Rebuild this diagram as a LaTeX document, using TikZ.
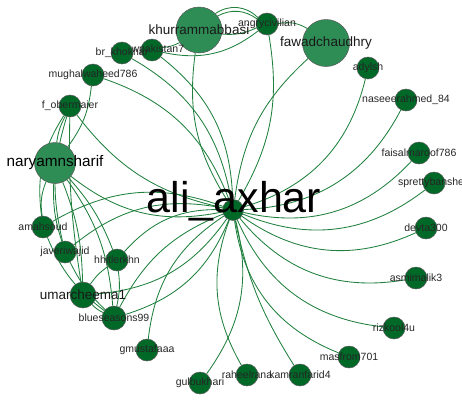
\documentclass[tikz,border=0pt]{standalone}
\usepackage{fontspec}
\setmainfont{Liberation Sans}
\usepackage{tikz}
\usetikzlibrary{backgrounds}
\definecolor{userfill}{RGB}{0,105,40}
\definecolor{hubfill}{RGB}{46,140,85}
\definecolor{linkgreen}{RGB}{32,128,62}
\tikzset{
    %Define style for ordinary users
    user/.style={
           circle,
           draw=black!65,
           fill=userfill,
           line width=0.5pt,
           minimum size=22pt,
           inner sep=0pt},
    %Define style for the big accounts
    hub/.style={
           user,
           fill=hubfill},
    %Define style for labels
    lab/.style={
           font=\fontsize{10.5}{12}\selectfont,
           text=black!85},
    biglab/.style={
           font=\fontsize{13.5}{15}\selectfont,
           text=black!90},
    % Define edge style
    link/.style={
           draw=linkgreen,
           line width=0.85pt}
}

\begin{document}
\begin{tikzpicture}[x=1pt, y=-1pt]
    \useasboundingbox (0,0) rectangle (462,399);
    \node [user, minimum size=21pt] (ali) at (233,210) {};
    \node [hub, minimum size=46pt, label={[biglab]center:khurrammabbasi}] (khurram) at (199,30) {};
    \node [hub, minimum size=47pt, label={[biglab]center:fawadchaudhry}] (fawad) at (326,43) {};
    \node [user, label={[lab]center:angrycivilian}] (angry) at (267,24) {};
    \node [user, label={[lab]center:newpakistan7}] (newpak) at (152,50) {};
    \node [user, label={[lab]center:br\_khokhar}] (brkh) at (122,53) {};
    \node [user, label={[lab]center:mughalwaheed786}] (mughal) at (93,75) {};
    \node [user, label={[lab]center:f\_obermaier}] (fober) at (70,106) {};
    \node [hub, minimum size=41pt, label={[font=\fontsize{15.3}{17}\selectfont]center:naryamnsharif}] (naryam) at (55,163) {};
    \node [user, label={[lab]center:amahsoud}] (amahsoud) at (43,227) {};
    \node [user, label={[lab]center:javeriwajid}] (javeri) at (65,252) {};
    \node [user, label={[lab]center:hhitlerkhn}] (hhitler) at (117,260) {};
    \node [user, minimum size=26pt, label={[biglab]center:umarcheema1}] (umar) at (83,295) {};
    \node [user, minimum size=24pt, label={[lab]center:blueseasons99}] (blue) at (114,318) {};
    \node [user, label={[lab]center:gmustafaaa}] (gmust) at (147,350) {};
    \node [user, label={[lab]center:gulbukhari}] (gul) at (200,383) {};
    \node [user, label={[lab]center:raheelrana}] (raheel) at (247,375) {};
    \node [user, label={[lab]center:kamranfarid4}] (kamran) at (300,375) {};
    \node [user, label={[lab]center:masfrom701}] (masfrom) at (349,357) {};
    \node [user, label={[lab]center:rizkool4u}] (rizkool) at (394,328) {};
    \node [user, label={[lab]center:asmimalik3}] (asmi) at (416,278) {};
    \node [user, label={[lab]center:devta300}] (devta) at (426,228) {};
    \node [user, label={[lab]center:sprettybanshee}] (spretty) at (434,183) {};
    \node [user, label={[lab]center:faisalmaroof786}] (faisal) at (419,153) {};
    \node [user, label={[lab]center:naseeerahmed\_84}] (naseeer) at (406,100) {};
    \node [user, label={[lab]center:adylsh}] (adylsh) at (368,68) {};
    \node [font=\fontsize{43}{45}\selectfont, text=black] (alilab) at (234,201) {ali\_axhar};

    \begin{pgfonlayer}{background}
	% edges of the centre account
	\path (ali) edge[link, bend left=20] (khurram);
	\path (ali) edge[link, bend right=20] (angry);
	\path (ali) edge[link, bend left=20] (fawad);
	\path (ali) edge[link, bend right=30] (adylsh);
	\path (ali) edge[link, bend right=30] (naseeer);
	\path (ali) edge[link, bend right=30] (faisal);
	\path (ali) edge[link, bend right=30] (spretty);
	\path (ali) edge[link, bend right=30] (devta);
	\path (ali) edge[link, bend right=30] (asmi);
	\path (ali) edge[link, bend right=30] (rizkool);
	\path (ali) edge[link, bend right=30] (masfrom);
	\path (ali) edge[link, bend right=10] (kamran);
	\path (ali) edge[link, bend right=25] (raheel);
	\path (ali) edge[link, bend left=25] (gul);
	\path (ali) edge[link, bend right=25] (gmust);
	\path (ali) edge[link, bend left=25] (blue);
	\path (ali) edge[link, bend right=20] (blue);
	\path (ali) edge[link, bend left=25] (umar);
	\path (ali) edge[link, bend right=25] (hhitler);
	\path (ali) edge[link, bend right=25] (javeri);
	\path (ali) edge[link, bend right=25] (amahsoud);
	\path (ali) edge[link, bend left=25] (naryam);
	\path (ali) edge[link, bend left=20] (fober);
	\path (ali) edge[link, bend right=25] (mughal);
	\path (ali) edge[link, bend right=25] (brkh);
	\path (ali) edge[link, bend right=25] (newpak);
	% top group
	\path (khurram) edge[link, bend left=40] (angry);
	\path (khurram) edge[link, bend left=32] (angry);
	\path (khurram) edge[link, bend right=15] (angry);
	\path (newpak) edge[link, bend right=25] (angry);
	\path (newpak) edge[link, bend right=10] (khurram);
	\path (angry) edge[link, bend left=20] (fawad);
	% left group
	\path (fober) edge[link, bend right=10] (naryam);
	\path (mughal) edge[link, bend left=15] (naryam);
	\path (fober) edge[link, bend right=20] (amahsoud);
	\path (fober) edge[link, bend right=15] (javeri);
	\path (fober) edge[link, bend right=5] (umar);
	\path (naryam) edge[link, bend right=15] (amahsoud);
	\path (naryam) edge[link, bend right=10] (javeri);
	\path (naryam) edge[link, bend left=10] (umar);
	\path (naryam) edge[link, bend left=15] (blue);
	\path (naryam) edge[link, bend left=10] (hhitler);
	\path (amahsoud) edge[link, bend right=15] (blue);
	\path (javeri) edge[link, bend right=10] (blue);
	\path (umar) edge[link, bend right=10] (blue);
	\path (hhitler) edge[link, bend right=10] (umar);
	\path (hhitler) edge[link, bend left=10] (blue);
    \end{pgfonlayer}
\end{tikzpicture}
\end{document}
